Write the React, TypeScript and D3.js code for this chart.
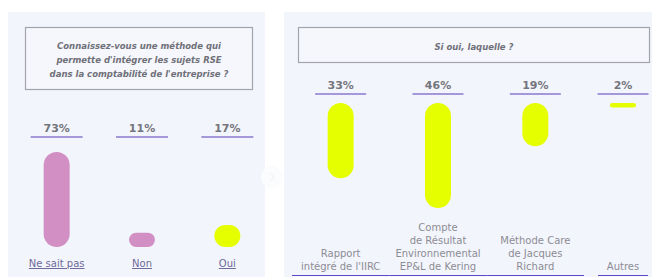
import React from 'react';
import * as d3 from 'd3';

// question 1
const q1Lines = [
  'Connaissez-vous une méthode qui',
  "permette d'intégrer les sujets RSE",
  "dans la comptabilité de l'entreprise ?",
];
const q1Cats = ['Ne sait pas', 'Non', 'Oui'];
const q1Values = [73, 11, 17];
const q1Colors = ['#d18fc3', '#d18fc3', '#e6ff00'];

// question 2
const q2Title = 'Si oui, laquelle ?';
const q2Cats = ['Rapport', 'Compte', 'Méthode', 'Autres'];
const q2Labels = [
  ['Rapport', "intégré de l'IIRC"],
  ['Compte', 'de Résultat', 'Environnemental', 'EP&L de Kering'],
  ['Méthode Care', 'de Jacques', 'Richard'],
  ['Autres'],
];
const q2Values = [33, 46, 19, 2];

const W = 652;
const H = 277;
const panelBg = '#f3f5fc';
const grayText = '#75757d';
const underline = '#8a78d0';
const font = '"DejaVu Sans", sans-serif';

const Pill: React.FC<{ x: number; y: number; w: number; h: number; fill: string }> = ({ x, y, w, h, fill }) => (
  <rect x={x} y={y} width={w} height={h} rx={Math.min(w, h) / 2} ry={Math.min(w, h) / 2} fill={fill} />
);

export default function App() {
  // left panel scales
  const x1 = d3.scaleBand<string>().domain(q1Cats).range([14, 270]);
  const h1 = d3.scaleLinear().domain([0, 73]).range([0, 95]);
  const base1 = 247;

  // right panel scales (main methods + "Autres" set apart)
  const x2main = d3.scaleBand<string>().domain(q2Cats.slice(0, 3)).range([292, 584]);
  const x2other = d3.scaleBand<string>().domain(q2Cats.slice(3)).range([598, 648]);
  const x2 = (c: string) => (x2main(c) !== undefined ? (x2main(c) as number) : (x2other(c) as number));
  const bw2 = (c: string) => (x2main(c) !== undefined ? x2main.bandwidth() : x2other.bandwidth());
  const h2 = d3.scaleLinear().domain([0, 46]).range([0, 105]);
  const top2 = 103;

  const barW = 26;

  return (
    <svg width={W} height={H} style={{ position: 'absolute', left: 0, top: 0 }}>
      <rect x={0} y={0} width={W} height={H} fill="#ffffff" />
      <rect x={8} y={12} width={257} height={H - 12} fill={panelBg} />
      <rect x={284} y={12} width={W - 284} height={H - 12} fill={panelBg} />

      {/* faint arrow between panels */}
      <circle cx={272} cy={177} r={11} fill="#fbfcfe" />
      <path d="M270,173 L274,177 L270,181" fill="none" stroke="#f3f4f8" strokeWidth={1.5} />

      {/* question boxes */}
      <rect x={25.5} y={27.5} width={227} height={62} fill="#f5f7fc" stroke="#a3a5ad" strokeWidth={1.2} />
      {q1Lines.map((l, i) => (
        <text key={i} x={139} y={49 + i * 14} textAnchor="middle" fontFamily={font} fontSize={8.5}
          fontWeight={700} fontStyle="italic" fill="#707079">{l}</text>
      ))}
      <rect x={298.5} y={27.5} width={351} height={35} fill="#f5f7fc" stroke="#a3a5ad" strokeWidth={1.2} />
      <text x={474} y={50} textAnchor="middle" fontFamily={font} fontSize={8.5} fontWeight={700}
        fontStyle="italic" fill="#707079">{q2Title}</text>

      {/* left bars */}
      {q1Cats.map((c, i) => {
        const cx = (x1(c) as number) + x1.bandwidth() / 2;
        const h = h1(q1Values[i]);
        return (
          <g key={c}>
            <text x={cx} y={132} textAnchor="middle" fontFamily={font} fontSize={11} fontWeight={700}
              fill={grayText}>{q1Values[i]}%</text>
            <line x1={cx - 26} x2={cx + 26} y1={137} y2={137} stroke={underline} strokeWidth={1.6} />
            <Pill x={cx - barW / 2} y={base1 - h} w={barW} h={h} fill={q1Colors[i]} />
            <text x={cx} y={267} textAnchor="middle" fontFamily={font} fontSize={10} fill="#6e6a9a"
              style={{ textDecoration: 'underline', textDecorationColor: '#4b36b8' }}>{c}</text>
          </g>
        );
      })}

      {/* right bars */}
      {q2Cats.map((c, i) => {
        const bx = x2(c);
        const bw = bw2(c);
        const cx = bx + bw / 2;
        const h = h2(q2Values[i]);
        const lines = q2Labels[i];
        return (
          <g key={c}>
            <text x={cx} y={89} textAnchor="middle" fontFamily={font} fontSize={11} fontWeight={700}
              fill={grayText}>{q2Values[i]}%</text>
            <line x1={cx - 25.5} x2={cx + 25.5} y1={94} y2={94} stroke={underline} strokeWidth={1.6} />
            <Pill x={cx - barW / 2} y={top2} w={barW} h={h} fill="#e6ff00" />
            {lines.map((l, j) => (
              <text key={j} x={cx} y={270 - (lines.length - 1 - j) * 13} textAnchor="middle"
                fontFamily={font} fontSize={10} fill="#8c8c94">{l}</text>
            ))}
            <line x1={bx} x2={bx + bw} y1={275.5} y2={275.5} stroke="#5a4ac8" strokeWidth={1.2} />
          </g>
        );
      })}
    </svg>
  );
}
